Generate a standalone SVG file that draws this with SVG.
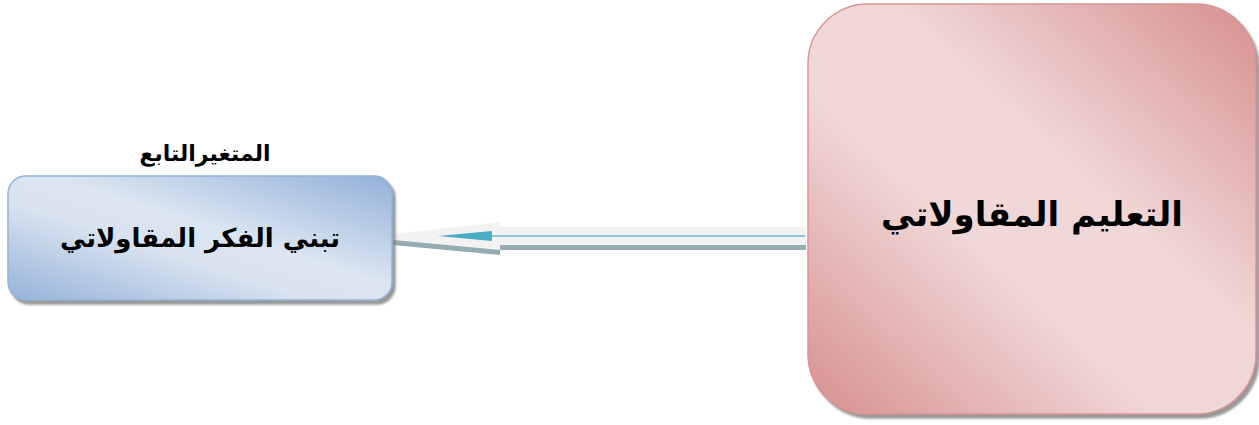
<svg xmlns="http://www.w3.org/2000/svg" width="1259" height="425" viewBox="0 0 1259 425">
<defs>
<style>
.t{font-family:"DejaVu Sans","Noto Sans",sans-serif;font-weight:bold;fill:#000;text-anchor:middle;direction:rtl}
</style>
<linearGradient id="gp" x1="1" y1="0" x2="0" y2="1">
<stop offset="0" stop-color="#d78f8f"/>
<stop offset="0.4" stop-color="#f0d6d6"/>
<stop offset="0.6" stop-color="#f1d8d8"/>
<stop offset="1" stop-color="#d78f8f"/>
</linearGradient>
<linearGradient id="gb" x1="1" y1="0" x2="0" y2="1">
<stop offset="0" stop-color="#92b0d8"/>
<stop offset="0.45" stop-color="#dce6f2"/>
<stop offset="0.6" stop-color="#d9e3f0"/>
<stop offset="1" stop-color="#95b2d9"/>
</linearGradient>
<filter id="sh" x="-5%" y="-5%" width="115%" height="115%">
<feDropShadow dx="3" dy="4" stdDeviation="1" flood-color="#7f7f7f" flood-opacity="0.8"/>
</filter>
</defs>
<g id="connectors">
<polygon points="393,239 500,227 500,232 806,232 806,250 500,250 500,255 393,245" fill="#94abb1"/>
<polygon points="393,234 500,222 500,227 806,227 806,245 500,245 500,250 393,240" fill="#f2f2f2"/>
<line x1="492" y1="236" x2="805" y2="236" stroke="#6ab9d0" stroke-width="1.5"/>
<polygon points="438,236 492,231 492,241" fill="#4bacc6"/>
</g>
<g id="node-dependent">
<rect x="8" y="176" width="384" height="124" rx="18" ry="18" fill="url(#gb)" stroke="#95b3d7" stroke-width="1.5" filter="url(#sh)"/>
<text class="t" x="200" y="247" font-size="26">تبني الفكر المقاولاتي</text>
</g>
<g id="label-dependent">
<text class="t" x="205" y="161" font-size="22">المتغيرالتابع</text>
</g>
<g id="node-independent">
<rect x="808" y="4" width="448" height="410" rx="60" ry="60" fill="url(#gp)" stroke="#d99594" stroke-width="1.5" filter="url(#sh)"/>
<text class="t" x="1032" y="226" font-size="34">التعليم المقاولاتي</text>
</g>
</svg>
